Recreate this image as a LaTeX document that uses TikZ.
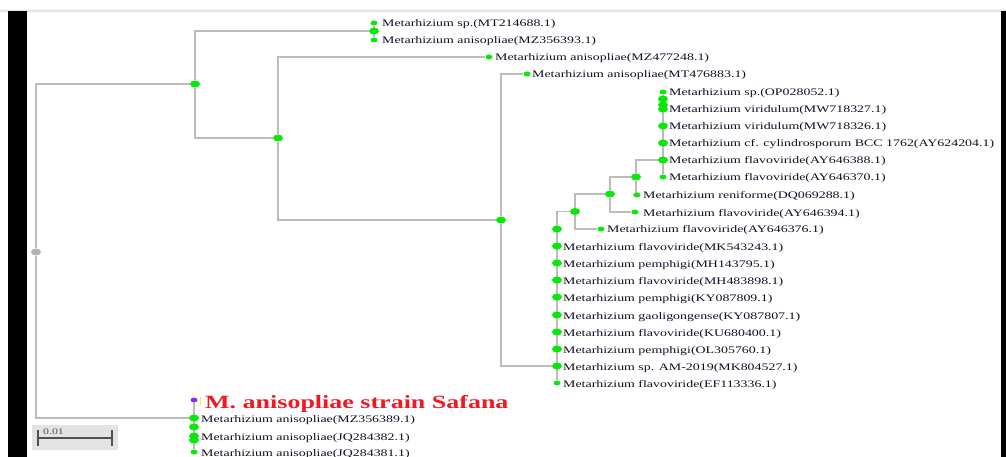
\documentclass[tikz,border=0pt]{standalone}
\usepackage{fontspec}
\setmainfont{Liberation Serif}
\newfontfamily\folhafont[FakeStretch=1.39]{Liberation Serif}
\usetikzlibrary{shapes.geometric,backgrounds}
\definecolor{verde}{RGB}{10,232,10}
\definecolor{ramocor}{RGB}{188,188,188}
\definecolor{textocor}{RGB}{15,15,35}
\definecolor{vermelho}{RGB}{240,25,35}
\definecolor{roxo}{RGB}{135,45,235}
\definecolor{escalacor}{RGB}{80,80,80}

\begin{document}
\begin{tikzpicture}[x=1pt,y=-1pt]
\tikzstyle{ramo}=[draw=ramocor, line width=1.1pt]
\tikzstyle{no}=[ellipse, fill=verde, minimum width=10pt, minimum height=7pt, inner sep=0pt]
\tikzstyle{folha}=[ellipse, fill=verde, minimum width=7pt, minimum height=5pt, inner sep=0pt]
\tikzstyle{rotulo}=[anchor=base west, inner sep=0pt, text=textocor, font=\folhafont\fontsize{10}{12}\selectfont]
\useasboundingbox (0,0) rectangle (1006,457);
\clip (0,0) rectangle (1006,457);
\shade[top color=white, bottom color=gray!35] (0,8) rectangle (1006,12);
\fill[black] (8,11) rectangle (26.7,457);
\fill[black] (1001,11) rectangle (1006,457);

\node[ellipse, fill=gray!60, minimum width=10pt, minimum height=7pt, inner sep=0pt] (raiz) at (36,252) {};
\node[no] (n0) at (195,84) {};
\node[no] (n1) at (278,138) {};
\node[no] (n2) at (374,31) {};
\node[no] (n3) at (501,220) {};
\node[no] (n4) at (575,211.5) {};
\node[no] (n5) at (610,194) {};
\node[no] (n6) at (636,177) {};

\node[folha] (mt214688) at (374,23) {};
\node[folha] (mz356393) at (374,40) {};
\node[rotulo] (t-mt214688) at (382,27) {Metarhizium sp.(MT214688.1)};
\node[rotulo] (t-mz356393) at (382,44) {Metarhizium anisopliae(MZ356393.1)};
\node[folha] (mz477248) at (489,57) {};
\node[rotulo] (t-mz477248) at (495,61) {Metarhizium anisopliae(MZ477248.1)};
\node[folha] (mt476883) at (527,74) {};
\node[rotulo] (t-mt476883) at (532,78) {Metarhizium anisopliae(MT476883.1)};

\node[folha] (op028052) at (663,92) {};
\node[no] (c1a) at (663,99) {};
\node[no] (c1b) at (663,105) {};
\node[no] (mw718327) at (663,109) {};
\node[no] (mw718326) at (663,126) {};
\node[no] (ay624204) at (663,143) {};
\node[no] (ay646388) at (663,160) {};
\node[folha] (ay646370) at (663,177) {};
\node[rotulo] (t-op028052) at (669,96) {Metarhizium sp.(OP028052.1)};
\node[rotulo] (t-mw718327) at (669,113) {Metarhizium viridulum(MW718327.1)};
\node[rotulo] (t-mw718326) at (669,130) {Metarhizium viridulum(MW718326.1)};
\node[rotulo] (t-ay624204) at (669,147) {Metarhizium cf. cylindrosporum BCC 1762(AY624204.1)};
\node[rotulo] (t-ay646388) at (669,164) {Metarhizium flavoviride(AY646388.1)};
\node[rotulo] (t-ay646370) at (669,181) {Metarhizium flavoviride(AY646370.1)};

\node[folha] (dq069288) at (637,195) {};
\node[rotulo] (t-dq069288) at (643,199) {Metarhizium reniforme(DQ069288.1)};
\node[folha] (ay646394) at (635,212) {};
\node[rotulo] (t-ay646394) at (643,216) {Metarhizium flavoviride(AY646394.1)};
\node[folha] (ay646376) at (601,229) {};
\node[rotulo] (t-ay646376) at (607,233) {Metarhizium flavoviride(AY646376.1)};

\node[no] (c2) at (557,229) {};
\node[no] (mk543243) at (557,246) {};
\node[no] (mh143795) at (557,263) {};
\node[no] (mh483898) at (557,280) {};
\node[no] (ky087809) at (557,297) {};
\node[no] (ky087807) at (557,315) {};
\node[no] (ku680400) at (557,332) {};
\node[no] (ol305760) at (557,349) {};
\node[no] (mk804527) at (557,366) {};
\node[folha] (ef113336) at (557,383) {};
\node[rotulo] (t-mk543243) at (563,250) {Metarhizium flavoviride(MK543243.1)};
\node[rotulo] (t-mh143795) at (563,267) {Metarhizium pemphigi(MH143795.1)};
\node[rotulo] (t-mh483898) at (563,284) {Metarhizium flavoviride(MH483898.1)};
\node[rotulo] (t-ky087809) at (563,301) {Metarhizium pemphigi(KY087809.1)};
\node[rotulo] (t-ky087807) at (563,319) {Metarhizium gaoligongense(KY087807.1)};
\node[rotulo] (t-ku680400) at (563,336) {Metarhizium flavoviride(KU680400.1)};
\node[rotulo] (t-ol305760) at (563,353) {Metarhizium pemphigi(OL305760.1)};
\node[rotulo] (t-mk804527) at (563,370) {Metarhizium sp. AM-2019(MK804527.1)};
\node[rotulo] (t-ef113336) at (563,387) {Metarhizium flavoviride(EF113336.1)};

\node[ellipse, fill=roxo, minimum width=7pt, minimum height=5pt, inner sep=0pt] (safana) at (194,400) {};
\fill[yellow] (199.5,396.5) rectangle (201,405);
\node[rotulo, text=vermelho, font=\folhafont\bfseries\fontsize{18.7}{22}\selectfont] (t-safana) at (205,408) {M. anisopliae strain Safana};
\node[no] (mz356389) at (194,418) {};
\node[no] (c3a) at (194,427) {};
\node[no] (jq284382) at (194,436) {};
\node[no] (c3b) at (194,440) {};
\node[folha] (jq284381) at (194,452) {};
\node[rotulo] (t-mz356389) at (201,422) {Metarhizium anisopliae(MZ356389.1)};
\node[rotulo] (t-jq284382) at (201,440) {Metarhizium anisopliae(JQ284382.1)};
\node[rotulo] (t-jq284381) at (201,456) {Metarhizium anisopliae(JQ284381.1)};

\begin{pgfonlayer}{background}
\draw[ramo] (raiz) |- (n0);
\draw[ramo] (raiz) |- (mz356389);
\draw[ramo] (n0) |- (n2);
\draw[ramo] (n0) |- (n1);
\draw[ramo] (mt214688) -- (mz356393);
\draw[ramo] (n1) |- (mz477248);
\draw[ramo] (n1) |- (n3);
\draw[ramo] (n3) |- (mt476883);
\draw[ramo] (n3) |- (mk804527);
\draw[ramo] (n4) -| (ef113336);
\draw[ramo] (n4) |- (n5);
\draw[ramo] (n4) |- (ay646376);
\draw[ramo] (n5) |- (n6);
\draw[ramo] (n5) |- (ay646394);
\draw[ramo] (n6) |- (ay646388);
\draw[ramo] (n6) |- (dq069288);
\draw[ramo] (op028052) -- (ay646370);
\draw[ramo] (safana) -- (jq284381);
\end{pgfonlayer}

\fill[gray!22] (32,425) rectangle (118,450);
\draw[escalacor, line width=1.3pt] (38,438) -- (112,438);
\draw[escalacor, line width=1.6pt] (38,430) -- (38,446);
\draw[escalacor, line width=1.6pt] (112,430) -- (112,446);
\node[rotulo, text=escalacor, font=\folhafont\fontsize{8.5}{10}\selectfont] (t-escala) at (43,434) {0.01};
\end{tikzpicture}
\end{document}
